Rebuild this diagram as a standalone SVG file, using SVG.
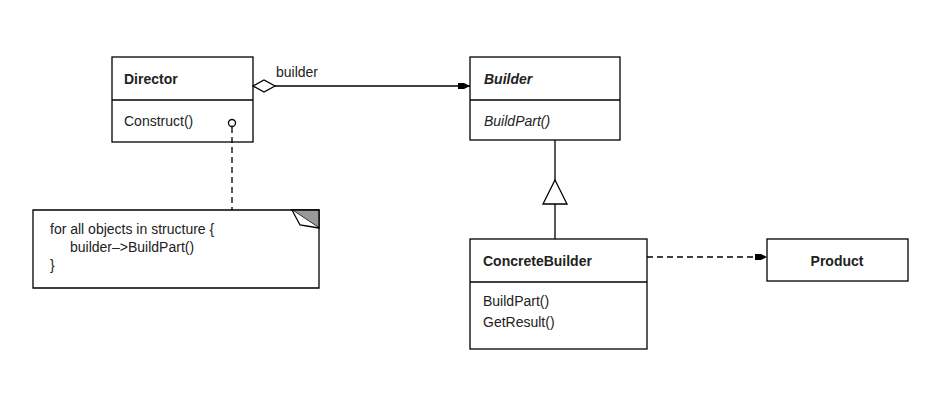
<svg xmlns="http://www.w3.org/2000/svg" width="939" height="414" viewBox="0 0 939 414">
<style>
.box{fill:#fff;stroke:#000;stroke-width:1.3}
.ln{stroke:#000;stroke-width:1.3;fill:none}
text{font-family:"Liberation Sans",Arial,sans-serif;font-size:14px;fill:#222}
.b{font-weight:bold}
.i{font-style:italic}
</style>
<defs>
<marker id="fa" markerWidth="12" markerHeight="8" refX="12" refY="4" orient="auto" markerUnits="userSpaceOnUse"><path d="M0,1 L6,1 L12,4 L6,7 L0,7 Z" fill="#000"/></marker>
</defs>
<rect width="939" height="414" fill="#fff"/>
<g id="director">
<rect class="box" x="112" y="57" width="141" height="85"/>
<line class="ln" x1="112" y1="100" x2="253" y2="100"/>
<text class="b" x="124" y="84">Director</text>
<text x="124" y="126">Construct()</text>
</g>
<g id="builder">
<rect class="box" x="470" y="57" width="150" height="83"/>
<line class="ln" x1="470" y1="100" x2="620" y2="100"/>
<text class="b i" x="484" y="84">Builder</text>
<text class="i" x="484" y="126">BuildPart()</text>
</g>
<g id="concretebuilder">
<rect class="box" x="470" y="239" width="177" height="110"/>
<line class="ln" x1="470" y1="282" x2="647" y2="282"/>
<text class="b" x="483" y="266">ConcreteBuilder</text>
<text x="483" y="306">BuildPart()</text>
<text x="483" y="327">GetResult()</text>
</g>
<g id="product">
<rect class="box" x="767" y="239" width="141" height="42"/>
<text class="b" x="837" y="266" text-anchor="middle">Product</text>
</g>
<g id="note">
<path class="box" d="M33,210 H319 V288 H33 Z"/>
<path d="M292,210 L319,210 L319,228 Z" fill="#999" stroke="#000" stroke-width="1.3"/>
<path d="M292,210 L300,225 L319,228" fill="#fff" stroke="#000" stroke-width="1.3"/>
<text x="50" y="234">for all objects in structure {</text>
<text x="70" y="252">builder–&gt;BuildPart()</text>
<text x="50" y="270">}</text>
</g>
<g id="connectors">
<path class="ln" d="M275,86 L470,86" marker-end="url(#fa)"/>
<path d="M253,86 L264,80 L275,86 L264,92 Z" fill="#fff" stroke="#000" stroke-width="1.3"/>
<text x="276" y="77">builder</text>
<path class="ln" d="M555,140 V180 M555,204 V239"/>
<path d="M555,180 L567,204 L543,204 Z" fill="#fff" stroke="#000" stroke-width="1.3"/>
<path class="ln" d="M647,257 H767" stroke-dasharray="6,4" marker-end="url(#fa)"/>
<path class="ln" d="M232,127 V210" stroke-dasharray="6,4"/>
<circle cx="232" cy="123" r="3.5" fill="#fff" stroke="#000" stroke-width="1.3"/>
</g>
</svg>
